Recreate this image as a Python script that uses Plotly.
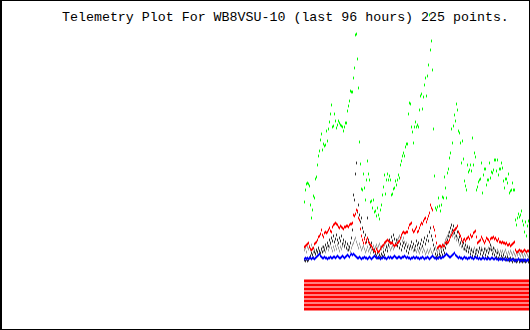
import plotly.graph_objects as go

N_POINTS = 225
sample_index = list(range(N_POINTS))

# Telemetry channels (plot units, bottom of image = 0)
green_ch = [
    128,140,146,147,146,144,125,112,120,134,
    132,151,153,165,174,179,190,196,180,186,
    184,185,199,189,201,208,216,225,203,204,
    216,209,202,205,209,207,205,204,203,199,
    203,207,207,219,224,229,239,238,238,252,
    262,295,296,271,242,188,166,141,140,156,
    142,130,150,169,156,150,128,129,122,130,
    118,119,114,122,115,111,120,125,135,143,
    155,136,150,156,150,154,150,135,136,141,
    142,149,145,150,155,152,165,169,174,177,
    174,183,186,186,216,227,226,203,198,187,
    203,208,203,205,203,220,234,236,221,233,
    245,252,234,254,265,315,280,289,260,201,
    154,122,120,123,132,124,119,125,133,132,
    153,142,132,157,161,172,177,201,187,204,
    215,209,226,220,199,197,187,167,189,171,
    149,144,140,165,158,160,165,159,192,165,
    177,173,140,143,148,150,151,167,137,155,
    161,161,145,150,150,167,152,158,157,160,
    170,170,159,170,155,161,161,167,162,149,
    142,151,151,147,156,137,139,140,147,140,
    140,110,105,112,116,113,115,119,109,105,
    98,108,94,104,109,
]

red_ch = [
    83,84,85,86,87,83,81,80,81,82,
    86,87,88,90,93,94,96,100,95,93,
    97,98,97,98,100,102,99,98,103,105,
    106,107,106,105,103,102,104,103,102,101,
    103,103,104,104,103,105,106,106,107,115,
    114,116,120,119,112,110,101,94,90,87,
    91,87,90,92,88,87,85,84,82,80,
    79,78,81,79,78,79,81,83,84,85,
    87,88,89,90,89,88,87,87,87,85,
    84,85,85,87,88,89,92,95,97,98,
    97,97,98,98,102,105,106,107,100,98,
    99,101,103,98,99,102,105,107,106,109,
    111,112,108,111,114,117,125,122,120,103,
    100,94,87,82,83,84,84,83,85,84,
    84,87,88,87,88,90,93,95,97,99,
    100,101,102,104,98,96,94,91,88,90,
    91,89,91,92,93,91,95,93,94,97,
    98,99,93,87,88,89,90,93,91,89,
    87,89,92,91,90,88,91,92,92,93,
    91,92,90,89,91,88,88,87,88,87,
    87,86,87,85,85,86,84,85,86,87,
    88,80,78,78,79,80,79,79,78,79,
    80,79,78,79,79,
]

dark_ch = [
    70,69,71,69,70,72,74,77,75,72,
    78,76,80,78,82,79,77,81,78,83,
    80,85,82,87,84,90,87,92,89,94,
    88,91,95,90,87,92,89,94,86,90,
    84,88,82,86,80,83,87,92,100,135,
    130,156,167,118,125,115,108,112,102,98,
    92,95,88,112,90,86,83,87,81,78,
    80,76,74,77,72,75,73,76,74,78,
    75,80,83,79,85,90,87,93,89,95,
    91,86,90,84,88,82,86,80,84,87,
    82,85,79,83,77,81,84,88,83,86,
    80,84,89,85,87,82,86,90,84,88,
    92,86,90,94,89,98,102,94,90,85,
    81,76,73,75,72,76,74,78,75,80,
    77,82,86,90,94,98,102,105,100,104,
    97,101,94,98,90,93,87,90,84,87,
    81,85,79,83,78,82,76,80,74,78,
    73,76,80,74,78,82,76,80,74,77,
    81,75,79,73,77,81,85,80,76,82,
    75,79,73,77,72,75,71,74,72,75,
    71,73,70,73,71,69,72,70,68,71,
    69,70,68,69,71,68,70,69,68,70,
    69,68,69,70,68,
]

gray_ch = [
    80,82,78,83,81,84,80,85,82,78,80,76,79,77,81,78,75,
    80,83,79,82,78,81,84,80,83,86,82,79,83,80,84,81,85,82,79,83,81,84,87,83,86,82,80,84,81,78,
    82,85,87,90,92,88,85,82,86,83,80,82,84,81,78,80,83,79,81,77,80,82,84,81,83,85,82,84,86,83,
    81,84,82,85,87,84,82,85,83,80,82,84,81,83,86,88,90,92,94,91,93,89,92,88,85,87,83,85,82,84,
    81,83,79,82,80,78,81,79,77,80,82,78,81,79,76,78,80,77,79,81,78,76,79,81,83,80,78,81,79,82,
    80,83,85,87,90,92,94,97,93,95,98,94,96,92,94,90,92,88,85,87,83,85,81,83,80,82,84,81,83,79,
    81,78,80,82,79,77,80,78,81,79,82,80,77,79,81,78,80,82,79,81,83,80,78,81,79,77,80,78,76,79,
    77,79,76,78,80,77,75,78,76,79,77,75,78,76,74,77,75,78,76,74,77,75,73,76,74,77,75,73,
]

blue_ch = [
    71,72,71,72,71,72,72,71,72,72,71,72,73,74,75,76,74,
    73,72,72,73,72,72,71,72,72,73,72,72,73,73,72,73,74,73,72,72,73,74,73,72,73,74,75,74,73,75,
    76,75,76,75,74,73,72,72,73,72,71,72,72,73,72,72,71,72,73,72,71,72,73,74,73,72,72,73,72,71,
    72,72,73,72,72,71,72,73,72,73,72,72,73,74,73,72,72,73,73,72,72,73,73,74,73,72,73,72,72,71,
    72,72,73,72,72,73,72,72,71,72,72,73,72,71,72,72,73,72,71,72,73,74,73,72,72,71,72,72,73,72,
    72,73,73,74,75,76,75,74,73,73,74,75,76,77,75,74,73,72,73,72,72,71,72,73,72,72,71,72,72,73,
    72,72,71,72,73,72,72,71,72,71,71,72,72,71,72,71,71,72,71,71,72,72,71,71,72,71,71,70,71,71,
    71,70,71,71,70,71,70,70,71,70,70,71,70,70,69,70,70,71,70,69,70,70,69,70,70,69,70,70,
]

# 8 status bits, all set for every sample
status_bits = [[1] * N_POINTS for _ in range(8)]

title_text = "Telemetry Plot For WB8VSU-10 (last 96 hours) 225 points."

for name, arr in [("green", green_ch), ("red", red_ch), ("dark", dark_ch),
                  ("gray", gray_ch), ("blue", blue_ch)]:
    assert len(arr) == N_POINTS, (name, len(arr))

W, H = 530, 330
X_OFFSET = 304.5  # pixel column of first sample center

fig = go.Figure()

# status bit stripes
lane_y = [48.5 - 4 * k for k in range(len(status_bits))]
fig.add_trace(go.Heatmap(
    z=status_bits, x=sample_index, y=lane_y,
    colorscale=[[0, "white"], [1, "#ff0000"]], zmin=0, zmax=1,
    showscale=False, ygap=1, xgap=0, hoverinfo="skip",
))

def dots(vals, color):
    return go.Scatter(
        x=sample_index, y=vals, mode="markers",
        marker=dict(symbol="line-ns", size=2, color=color,
                    line=dict(color=color, width=1)),
        hoverinfo="skip", showlegend=False,
    )

fig.add_trace(dots(gray_ch, "#a0a0a0"))
fig.add_trace(dots(dark_ch, "#303030"))
fig.add_trace(dots(red_ch, "#ff0000"))
fig.add_trace(dots(green_ch, "#00ff00"))
fig.add_trace(dots(blue_ch, "#0000ff"))

fig.update_layout(
    width=W, height=H,
    margin=dict(l=0, r=0, t=0, b=0),
    paper_bgcolor="white", plot_bgcolor="white",
    showlegend=False,
    xaxis=dict(visible=False, range=[-X_OFFSET, W - X_OFFSET], fixedrange=True),
    yaxis=dict(visible=False, range=[0, H], fixedrange=True),
    annotations=[dict(
        text=title_text, xref="paper", yref="paper",
        x=60 / W, y=1 - 17.5 / H, xanchor="left", yanchor="middle",
        showarrow=False,
        font=dict(family="Liberation Mono", size=13.3, color="black"),
    )],
    shapes=[
        dict(type="rect", xref="paper", yref="paper", x0=0, y0=0, x1=1, y1=1,
             line=dict(color="black", width=2), layer="above"),
        dict(type="line", xref="paper", yref="paper", x0=0, y0=0, x1=0, y1=1,
             line=dict(color="black", width=4), layer="above"),
    ],
)

fig.write_html("out.html")
